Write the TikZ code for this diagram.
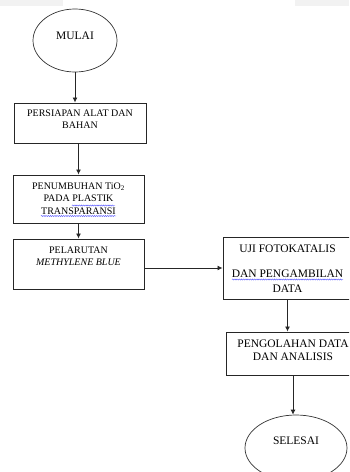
\documentclass[tikz,border=0pt]{standalone}
\usepackage{fontspec}
\setmainfont{Liberation Serif}
\usepackage{tikz}
\usepackage{xcolor}
\usetikzlibrary{shapes.geometric,arrows.meta,decorations.pathmorphing}
\tikzset{
    flow-box/.style = {draw=black!85, fill=white, line width=1pt, rectangle, inner sep=0pt},
    flow-end/.style = {draw=black!80, fill=white, line width=0.7pt, ellipse, inner sep=0pt},
    flow-end-text/.style = {inner sep=0pt, font=\fontsize{11.5}{13}\selectfont},
    flow-arrow/.style = {draw=black!85, line width=0.8pt, -{Latex[length=5pt,width=5pt]}},
    spell-wave/.style = {draw=blue!65, line width=0.45pt, decorate, decoration={snake, amplitude=0.55pt, segment length=2.2pt}},
}

\begin{document}
\begin{tikzpicture}[x=1pt,y=-1pt]
\useasboundingbox (0,0) rectangle (349,472);
\clip (0,0) rectangle (349,472);
\fill[gray!10] (0,0) rectangle (63,6);
\fill[gray!10] (295,0) rectangle (349,6);

\node[flow-end, minimum width=84pt, minimum height=63pt] (mulai) at (75,40.5) {};
\node[flow-end-text] (mulai-text) at ([yshift=5pt]mulai.center) {MULAI};

\node[flow-box] (persiapan) at (80,123) {\begin{minipage}[c][40pt][t]{132pt}
    \centering\fontsize{10}{12}\selectfont
    \vspace*{5.1pt}\strut PERSIAPAN ALAT DAN\\ BAHAN
\end{minipage}};

\node[flow-box] (penumbuhan) at (78.5,199) {\begin{minipage}[c][48pt][t]{131pt}
    \centering\fontsize{10}{12.5}\selectfont
    \vspace*{5.25pt}\strut PENUMBUHAN TiO\textsubscript{2}\\ PADA PLASTIK\\ TRANSPARANSI
\end{minipage}};

\node[flow-box] (pelarutan) at (78.5,264) {\begin{minipage}[c][50pt][t]{131pt}
    \centering\fontsize{10}{12}\selectfont
    \vspace*{5.6pt}\strut PELARUTAN\\ \textit{METHYLENE BLUE}
\end{minipage}};

\node[flow-box] (uji) at (287.5,268) {\begin{minipage}[c][62pt][t]{129pt}
    \centering\fontsize{11.5}{15}\selectfont
    \vspace*{4.5pt}\strut UJI FOTOKATALIS\\[10pt] DAN PENGAMBILAN\\ DATA
\end{minipage}};

\node[flow-box] (pengolahan) at (293,353.5) {\begin{minipage}[c][43pt][t]{134pt}
    \centering\fontsize{11.5}{13}\selectfont
    \vspace*{5.9pt}\strut PENGOLAHAN DATA\\ DAN ANALISIS
\end{minipage}};

\node[flow-end, minimum width=102pt, minimum height=66pt] (selesai) at (296,448) {};
\node[flow-end-text] (selesai-text) at ([yshift=7pt]selesai.center) {SELESAI};

% spelling marks
\draw[spell-wave] (72,205.5) -- (115,205.5);
\draw[spell-wave] (41,216) -- (116,216);
\draw[spell-wave] (232,279.5) -- (343,279.5);

\draw[flow-arrow] (mulai.south) -- (mulai.south |- persiapan.north);
\draw[flow-arrow] (penumbuhan.north |- persiapan.south) -- (penumbuhan.north);
\draw[flow-arrow] (penumbuhan.south) -- (penumbuhan.south |- pelarutan.north);
\draw[flow-arrow] (uji.west -| pelarutan.east) -- (uji.west);
\draw[flow-arrow] (uji.south) -- (uji.south |- pengolahan.north);
\draw[flow-arrow] (pengolahan.south) -- (pengolahan.south |- selesai.north);
\end{tikzpicture}
\end{document}
